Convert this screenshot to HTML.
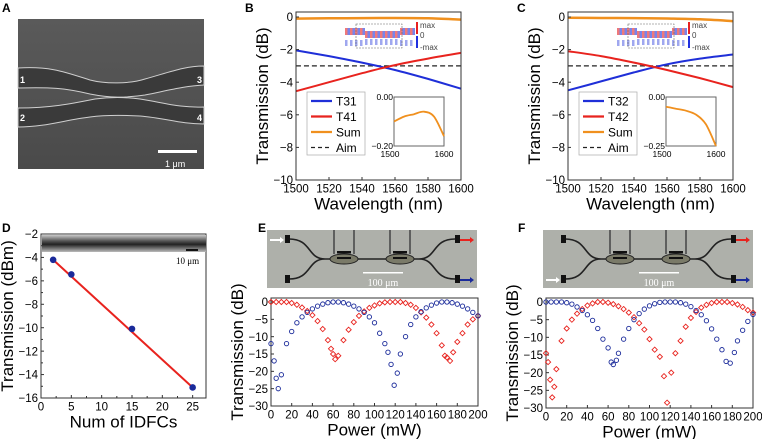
<!DOCTYPE html>
<html><head><meta charset="utf-8"><style>
body{margin:0;background:#fff;width:762px;height:439px;overflow:hidden}
svg{font-family:"Liberation Sans",Arial,sans-serif}
</style></head><body>
<svg id="s" width="762" height="439" viewBox="0 0 762 439" xmlns="http://www.w3.org/2000/svg">
<defs>
<linearGradient id="semg" x1="0" y1="0" x2="0" y2="1"><stop offset="0" stop-color="#5a5a5a"/><stop offset="1" stop-color="#4a4a4a"/></linearGradient>
<linearGradient id="strip" x1="0" y1="0" x2="0" y2="1"><stop offset="0" stop-color="#c8c8c8"/><stop offset="0.35" stop-color="#555"/><stop offset="0.55" stop-color="#222"/><stop offset="0.75" stop-color="#666"/><stop offset="1" stop-color="#bbb"/></linearGradient>
</defs>
<g>
<text x="2" y="12" font-size="12" font-weight="bold">A</text>
<rect x="18" y="19" width="186" height="150" fill="url(#semg)"/>
<path d="M18,68 C50,66 65,72 90,80 C105,84 130,84 145,79 C170,72 185,66 204,66 L204,85 C185,86 170,90 145,95 C125,98 110,98 90,94 C65,88 50,87 18,88 Z" fill="#3a3a3a" stroke="#cfcfcf" stroke-width="1"/>
<path d="M18,108 C50,108 70,104 95,99 C110,97 125,97 140,99 C165,103 180,108 204,107 L204,124 C180,124 165,118 140,116 C120,115 105,115 90,117 C65,120 45,127 18,127 Z" fill="#3a3a3a" stroke="#cfcfcf" stroke-width="1"/>
<g font-size="9" font-weight="bold" fill="#fff">
<text x="20" y="83">1</text><text x="20" y="121">2</text><text x="197" y="83">3</text><text x="197" y="121">4</text>
</g>
<rect x="158" y="150" width="39" height="3" fill="#fff"/>
<text x="165" y="167" font-size="9" fill="#fff">1 μm</text>
</g>
<text x="245" y="12" font-size="12" font-weight="bold">B</text>
<text x="517" y="12" font-size="12" font-weight="bold">C</text>
<text x="2" y="232" font-size="12" font-weight="bold">D</text>
<text x="258" y="232" font-size="12" font-weight="bold">E</text>
<text x="518" y="232" font-size="12" font-weight="bold">F</text>
<g id="root"></g>
</svg>
<script>
const wl = [1500,1520,1540,1560,1580,1600];
const bT31 = [-2.05,-2.4,-2.8,-3.25,-3.8,-4.4];
const bT41 = [-4.55,-4.0,-3.45,-2.95,-2.55,-2.2];
const bSum = [-0.1,-0.08,-0.07,-0.06,-0.08,-0.16];
const cT32 = [-4.5,-3.95,-3.4,-2.9,-2.55,-2.3];
const cT42 = [-2.1,-2.4,-2.8,-3.25,-3.75,-4.3];
const cSum = [-0.05,-0.06,-0.07,-0.09,-0.14,-0.25];
const aim = -3;
const wlTicks = [1500,1520,1540,1560,1580,1600];
const dbTicks = [0,-2,-4,-6,-8,-10];
const dN = [2,5,15,25];
const dT = [-4.2,-5.45,-10.1,-15.1];
const dFit = [[2,-4.2],[25,-15.1]];
const dYTicks = [-2,-4,-6,-8,-10,-12,-14,-16];
const dXTicks = [0,5,10,15,20,25];
const eBlueP = [0,3,5,7,10,15,20,25,30,35,40,45,50,55,60,65,70,75,80,85,90,95,100,105,110,113,116,119,122,125,130,135,140,145,150,155,160,165,170,175,180,185,190,195,200];
const eBlueT = [-12,-17,-22,-25,-21,-12,-8.5,-6,-4.3,-3,-2,-1.2,-0.6,-0.2,0,0,-0.2,-0.6,-1.2,-2,-3,-4.3,-6,-9,-12,-14.5,-18,-24,-20.5,-15,-10,-6.5,-4.3,-2.8,-1.7,-0.9,-0.3,0,0,-0.2,-0.6,-1.2,-2,-3,-4];
const eRedP = [0,5,10,15,20,25,30,35,40,45,50,55,58,60,62,65,70,75,80,85,90,95,100,105,110,115,120,125,130,135,140,145,150,155,160,165,168,170,173,176,180,185,190,195,200];
const eRedT = [0,0,0,0,-0.3,-0.8,-1.6,-2.6,-3.8,-5.5,-7.8,-11,-13.5,-15,-16.5,-15.5,-11,-8,-5.8,-4,-2.7,-1.7,-1,-0.4,-0.1,0,0,0,-0.3,-0.8,-1.7,-3,-4.5,-6.5,-9,-12.5,-15.5,-16,-17,-14.5,-11.5,-9,-6.5,-5,-4];
const fBlueP = [0,5,10,15,20,25,30,35,40,45,50,55,60,63,65,68,70,75,80,85,90,95,100,105,110,115,120,125,130,135,140,145,150,155,160,165,170,174,178,182,185,190,195,200];
const fBlueT = [0,0,0,0,-0.2,-0.6,-1.4,-2.4,-3.6,-5.2,-7.5,-10.5,-13,-17,-17.7,-16.5,-14.5,-10.5,-7.5,-5,-3.3,-2,-1.1,-0.5,-0.1,0,0,0,-0.2,-0.6,-1.3,-2.4,-3.6,-5.3,-7.6,-10.5,-13.5,-16.8,-17.3,-14.3,-11,-8,-5.5,-3.5];
const fRedP = [0,2,4,6,8,10,15,20,25,30,35,40,45,50,55,60,65,70,75,80,85,90,95,100,105,110,114,117,121,125,130,135,140,145,150,155,160,165,170,175,180,185,190,195,200];
const fRedT = [-14.5,-17,-22,-27,-24,-19,-11,-7.5,-5,-3.3,-2,-1,-0.4,0,0,-0.2,-0.6,-1.2,-2,-3,-4.3,-6,-7.8,-10.5,-13.5,-15.5,-21,-28.5,-20,-14.5,-11,-7,-4.5,-2.8,-1.6,-0.8,-0.3,0,0,0,-0.3,-0.7,-1.4,-2.3,-3];
const pTicks = [0,20,40,60,80,100,120,140,160,180,200];
const tTicks = [0,-5,-10,-15,-20,-25,-30];

const NS="http://www.w3.org/2000/svg";
const root=document.getElementById('root');
function el(tag,attrs,parent,text){const e=document.createElementNS(NS,tag);for(const k in attrs)e.setAttribute(k,attrs[k]);if(text!==undefined)e.textContent=text;(parent||root).appendChild(e);return e;}
function scale(d0,d1,r0,r1){return v=>r0+(v-d0)*(r1-r0)/(d1-d0);}

function frame(g,x0,y0,x1,y1,xs,ys,xt,yt,xl,yl,fs,minor){
  const r=el('rect',{x:x0,y:y0,width:x1-x0,height:y1-y0,fill:'none',stroke:'#333','stroke-width':1},g);
  
  
  xt.forEach(v=>{const x=xs(v);el('line',{x1:x,y1:y1,x2:x,y2:y1-3,stroke:'#333'},g);
    const t=el('text',{x:x,y:y1+fs+1,'font-size':fs,'text-anchor':'middle'},g,String(v).replace('-','−'));
    
    });
  yt.forEach(v=>{const y=ys(v);el('line',{x1:x0,y1:y,x2:x0+3,y2:y,stroke:'#333'},g);
    const t=el('text',{x:x0-3,y:y+fs*0.36,'font-size':fs,'text-anchor':'end'},g,String(v).replace('-','−'));
    
    });
  if(minor){for(let i=0;i<yt.length-1;i++){const y=(ys(yt[i])+ys(yt[i+1]))/2;el('line',{x1:x0,y1:y,x2:x0+2,y2:y,stroke:'#333'},g);}
    for(let i=0;i<xt.length-1;i++){const x=(xs(xt[i])+xs(xt[i+1]))/2;el('line',{x1:x,y1:y1,x2:x,y2:y1-2,stroke:'#333'},g);}}
  const a=el('text',{x:(x0+x1)/2,y:y1+fs+18,'font-size':17,'text-anchor':'middle'},g,xl);
  
  
  const b=el('text',{x:0,y:0,'font-size':17,'text-anchor':'middle',transform:`translate(${x0-28},${(y0+y1)/2}) rotate(-90)`},g,yl);
  
  
}
function line(g,xs,ys,X,Y,color,w,dash,name){
  let d='M'+xs(X[0]).toFixed(1)+','+ys(Y[0]).toFixed(1);
  for(let i=1;i<X.length;i++){
    const p0=[xs(X[Math.max(i-2,0)]),ys(Y[Math.max(i-2,0)])],p1=[xs(X[i-1]),ys(Y[i-1])],p2=[xs(X[i]),ys(Y[i])],p3=[xs(X[Math.min(i+1,X.length-1)]),ys(Y[Math.min(i+1,X.length-1)])];
    const c1=[p1[0]+(p2[0]-p0[0])/6,p1[1]+(p2[1]-p0[1])/6],c2=[p2[0]-(p3[0]-p1[0])/6,p2[1]-(p3[1]-p1[1])/6];
    d+=`C${c1[0].toFixed(1)},${c1[1].toFixed(1)} ${c2[0].toFixed(1)},${c2[1].toFixed(1)} ${p2[0].toFixed(1)},${p2[1].toFixed(1)}`;
  }
  const p=el('path',{d:d,fill:'none',stroke:color,'stroke-width':w},g);
  if(dash)p.setAttribute('stroke-dasharray',dash);
  
  
}

function panelBC(ox,T1,T2,S,n1,n2,insetMin){
  const g=el('g',{});
  
  
  const x0=296+ox,x1=461+ox,y0=12,y1=180;
  const xs=scale(1500,1600,x0,x1), ys=scale(0,-10,17,180);
  el('rect',{x:x0,y:y0,width:x1-x0,height:y1-y0,fill:'#fff'},g);
  line(g,xs,ys,[1500,1600],[aim,aim],'#222',1.2,'5,3','aim-line');
  line(g,xs,ys,wl,T1,'#1f2fd8',2,null,'series-'+n1.toLowerCase());
  line(g,xs,ys,wl,T2,'#e8231e',2,null,'series-'+n2.toLowerCase());
  line(g,xs,ys,wl,S,'#f0901e',2.5,null,'series-sum');
  frame(g,x0,y0,x1,y1,xs,ys,wlTicks,dbTicks,'Wavelength (nm)','Transmission (dB)',11.5,false);
  const fm=el('g',{},g);
  
  
  for(let i=0;i<14;i++){const x=345+i*5;el('rect',{x:x,y:28+(i>3&&i<11?3:0),width:2.5,height:7,fill:'#e84040',opacity:0.7},fm);el('rect',{x:x+2.5,y:28+(i>3&&i<11?3:0),width:2.5,height:7,fill:'#4050e0',opacity:0.7},fm);
    el('rect',{x:x,y:40-(i>3&&i<11?1:0),width:2.5,height:6,fill:'#4050e0',opacity:0.5},fm);}
  el('rect',{x:356,y:24,width:46,height:24,fill:'none',stroke:'#666','stroke-dasharray':'2,1','stroke-width':0.6},fm);
  el('rect',{x:416,y:22,width:2,height:12,fill:'#e82020'},fm);el('rect',{x:416,y:36,width:2,height:12,fill:'#2030e0'},fm);
  el('text',{x:420,y:28,'font-size':8,fill:'#444'},fm,'max');el('text',{x:420,y:38,'font-size':8,fill:'#444'},fm,'0');el('text',{x:420,y:50,'font-size':8,fill:'#444'},fm,'-max');
  fm.setAttribute('transform',`translate(${ox},0)`);
  const lg=el('g',{},g);
  
  
  const lx=307+ox;
  el('rect',{x:lx,y:92,width:58,height:63,fill:'#fff',stroke:'#aaa','stroke-width':0.7},lg);
  [[n1,'#1f2fd8',null],[n2,'#e8231e',null],['Sum','#f0901e',null],['Aim','#222','4,3']].forEach((e,i)=>{
    const y=101+i*15.5;const l=el('line',{x1:lx+4,y1:y,x2:lx+25,y2:y,stroke:e[1],'stroke-width':e[2]?1.2:2.2},lg);if(e[2])l.setAttribute('stroke-dasharray',e[2]);
    const t=el('text',{x:lx+29,y:y+4.5,'font-size':12},lg,e[0]);
    
    });
  const ig=el('g',{},g);
  
  
  const ix0=394+ox,ix1=444+ox,iy0=97,iy1=146;
  const ixs=scale(1500,1600,ix0,ix1), iys=scale(0,insetMin,iy0,iy1);
  el('rect',{x:ix0,y:iy0,width:ix1-ix0,height:iy1-iy0,fill:'#fff',stroke:'#666'},ig);
  line(ig,ixs,iys,wl,S,'#f0901e',1.8,null,'inset-sum-line');
  el('text',{x:ix0-1,y:iy0+3,'font-size':8.5,'text-anchor':'end'},ig,'0.00');
  el('text',{x:ix0-1,y:iy1+3,'font-size':8.5,'text-anchor':'end'},ig,insetMin.toFixed(2).replace('-','−'));
  el('text',{x:ix0-4,y:iy1+11,'font-size':8.5,'text-anchor':'middle'},ig,'1500');
  el('text',{x:ix1,y:iy1+11,'font-size':8.5,'text-anchor':'middle'},ig,'1600');
}
panelBC(0,bT31,bT41,bSum,'T31','T41',-0.2);
panelBC(272,cT32,cT42,cSum,'T32','T42',-0.25);

(function(){
  const g=el('g',{});
  
  
  const x0=41,x1=206,y0=234,y1=398;
  const xs=scale(0,27.2,x0,x1), ys=scale(-2,-16,y0,y1);
  frame(g,x0,y0,x1,y1,xs,ys,dXTicks,dYTicks,'Num of IDFCs','Transmission (dBm)',11.5,true);
  el('rect',{x:x0+1,y:235,width:x1-x0-1,height:17,fill:'url(#strip)'},g);
  el('rect',{x:186,y:249,width:12,height:2,fill:'#111'},g);
  el('text',{x:176,y:264,'font-size':9,'font-family':'Liberation Serif, serif'},g,'10 μm');
  line(g,xs,ys,dFit.map(p=>p[0]),dFit.map(p=>p[1]),'#e8231e',2,null,'linear-fit');
  dN.forEach((n,i)=>{const c=el('circle',{cx:xs(n),cy:ys(dT[i]),r:3.3,fill:'#1a2a9a'},g);
    
    });
})();

function panelEF(name,x0,y1,photoX,inLeft,BP,BT,RP,RT){
  const g=el('g',{});
  
  
  const x1=x0+207,y0=302-4;
  const xs=scale(0,200,x0,x1), ys=scale(0,-30,302,y1);
  const ph=el('g',{},g);
  
  
  const px=photoX,pw=210,py=230,phh=58;
  el('rect',{x:px,y:py,width:pw,height:phh,fill:'#aeb0aa'},ph);
  const cx=px+pw/2;
  el('path',{d:`M${px+22},${py+9} C${px+45},${py+9} ${px+40},${py+29} ${px+58},${py+29} L${px+pw-58},${py+29} C${px+pw-40},${py+29} ${px+pw-45},${py+9} ${px+pw-22},${py+9} M${px+22},${py+49} C${px+45},${py+49} ${px+40},${py+29} ${px+58},${py+29} M${px+pw-58},${py+29} C${px+pw-40},${py+29} ${px+pw-45},${py+49} ${px+pw-22},${py+49}`,fill:'none',stroke:'#222','stroke-width':1.6},ph);
  [cx-28,cx+28].forEach(x=>{el('ellipse',{cx:x,cy:py+29,rx:14,ry:5,fill:'#7a7a68',stroke:'#222'},ph);el('rect',{x:x-7,y:py+21,width:14,height:2.5,fill:'#111'},ph);el('rect',{x:x-7,y:py+27,width:14,height:2,fill:'#111'},ph);
    el('line',{x1:x-10,y1:py,x2:x-10,y2:py+24,stroke:'#444','stroke-width':1.5},ph);el('line',{x1:x+10,y1:py,x2:x+10,y2:py+24,stroke:'#444','stroke-width':1.5},ph);});
  [[px+18,py+9],[px+18,py+49],[px+pw-22,py+9],[px+pw-22,py+49]].forEach(p=>el('rect',{x:p[0],y:p[1]-4,width:5,height:8,fill:'#111'},ph));
  el('path',{d:`M${px+3},${inLeft}h10v-2l4,3l-4,3v-2h-10z`,fill:'#fff'},ph);
  el('path',{d:`M${px+pw-17},${py+9}h10v-2l4,3l-4,3v-2h-10z`,fill:'#e8231e'},ph);
  el('path',{d:`M${px+pw-17},${py+49}h10v-2l4,3l-4,3v-2h-10z`,fill:'#1a2a9a'},ph);
  el('rect',{x:cx-9,y:py+42,width:40,height:1.5,fill:'#fff'},ph);
  el('text',{x:cx+11,y:py+56,'font-size':10,fill:'#fff','text-anchor':'middle','font-family':'Liberation Serif, serif'},ph,'100 μm');
  frame(g,x0,y0,x1,y1,xs,ys,pTicks,tTicks,'Power (mW)','Transmission (dB)',11.5,false);
  RP.forEach((p,i)=>{const x=xs(p),y=ys(RT[i]);const d=el('path',{d:`M${x},${y-2.6}L${x+2.6},${y}L${x},${y+2.6}L${x-2.6},${y}Z`,fill:'none',stroke:'#e8231e','stroke-width':0.9},g);
    
    });
  BP.forEach((p,i)=>{const c=el('circle',{cx:xs(p),cy:ys(BT[i]),r:2.2,fill:'none',stroke:'#1a2a9a','stroke-width':0.9},g);
    
    });
}
panelEF('panel-e',271,406,267,233+6,eBlueP,eBlueT,eRedP,eRedT);
panelEF('panel-f',546,408,543,279,fBlueP,fBlueT,fRedP,fRedT);
</script>
</body></html>
